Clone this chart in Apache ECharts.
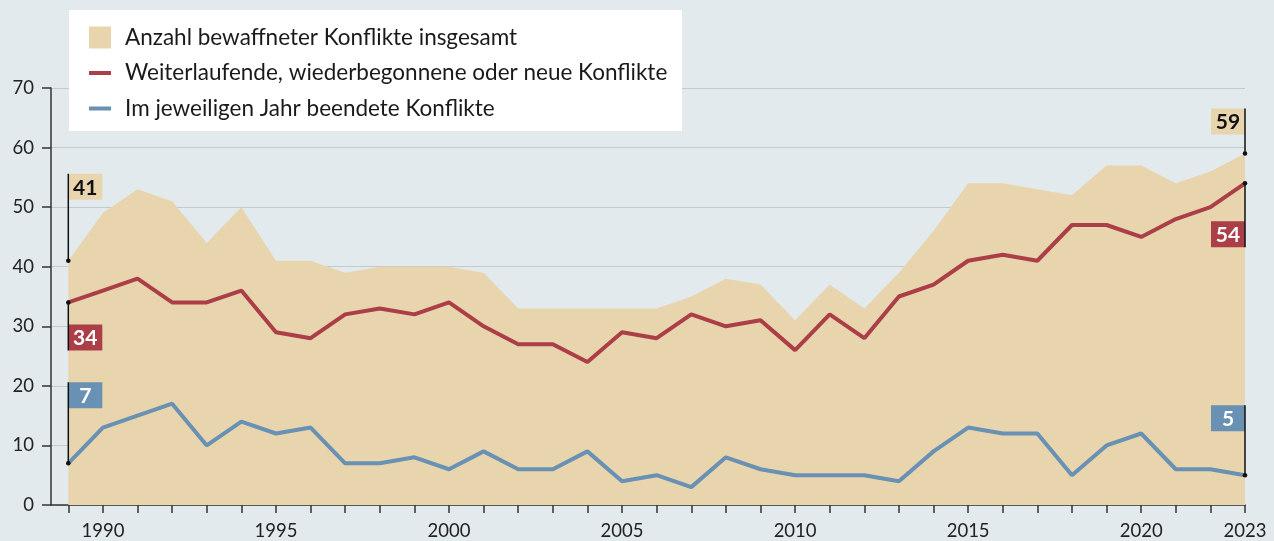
<!DOCTYPE html>
<html>
<head>
<meta charset="utf-8">
<script src="https://cdn.jsdelivr.net/npm/echarts@6/dist/echarts.min.js"></script>
<style>
  html, body { margin: 0; padding: 0; background: #e2eaee; }
  #main { width: 1274px; height: 541px; }
</style>
</head>
<body>
<div id="main"></div>
<script>
// Daten
var years = [];
for (var y = 1989; y <= 2023; y++) years.push(y);

var totalConflicts = [41, 49, 53, 51, 44, 50, 41, 41, 39, 40, 40, 40, 39, 33, 33, 33, 33, 33, 35, 38,
  37, 31, 37, 33, 39, 46, 54, 54, 53, 52, 57, 57, 54, 56, 59];
var ongoingConflicts = [34, 36, 38, 34, 34, 36, 29, 28, 32, 33, 32, 34, 30, 27, 27, 24, 29, 28, 32, 30,
  31, 26, 32, 28, 35, 37, 41, 42, 41, 47, 47, 45, 48, 50, 54];
var endedConflicts = [7, 13, 15, 17, 10, 14, 12, 13, 7, 7, 8, 6, 9, 6, 6, 9, 4, 5, 3, 8,
  6, 5, 5, 5, 4, 9, 13, 12, 12, 5, 10, 12, 6, 6, 5];

var xLabelYears = [1990, 1995, 2000, 2005, 2010, 2015, 2020, 2023];

// Beschriftungen am Anfang und Ende
var annoYears = [1989, 1989, 1989, 2023, 2023, 2023];
var annoValues = [41, 34, 7, 59, 54, 5];

var FONT = "Lato";
var C_AREA = "#e8d5ae";
var C_RED = "#ab3e47";
var C_BLUE = "#6991b3";

// Lage der Kästchen: dy = Oberkante relativ zum Punkt, side = Seite der Linie
var annoLayout = [
  { dy: -87, side: "right", fill: C_AREA, text: "#111" },
  { dy: 22, side: "right", fill: C_RED, text: "#fff" },
  { dy: -81, side: "right", fill: C_BLUE, text: "#fff" },
  { dy: -45, side: "left", fill: C_AREA, text: "#111" },
  { dy: 38, side: "left", fill: C_RED, text: "#fff" },
  { dy: -70, side: "left", fill: C_BLUE, text: "#fff" }
];

var names = [
  "Anzahl bewaffneter Konflikte insgesamt",
  "Weiterlaufende, wiederbegonnene oder neue Konflikte",
  "Im jeweiligen Jahr beendete Konflikte"
];

function pairs(vals) {
  return years.map(function (yr, i) { return [yr, vals[i]]; });
}

var myChart = echarts.init(document.getElementById("main"), null, { renderer: "canvas" });

var option = {
  backgroundColor: "#e2eaee",
  animation: false,
  textStyle: { fontFamily: FONT },
  grid: { left: 51, right: 29, top: 88, bottom: 36, containLabel: false, outerBoundsMode: "none" },
  graphic: [
    {
      type: "rect",
      z: 3,
      shape: { x: 69, y: 10, width: 613, height: 121 },
      style: { fill: "#ffffff" }
    }
  ],
  legend: {
    z: 5,
    orient: "vertical",
    left: 82,
    top: 21,
    itemWidth: 22,
    itemHeight: 22,
    itemGap: 12.5,
    textStyle: { fontFamily: FONT, fontSize: 22.5, color: "#1a1a1a", padding: [0, 0, 0, 9] },
    data: [
      { name: names[0], icon: "rect", itemStyle: { color: C_AREA } },
      { name: names[1], itemStyle: { opacity: 0 }, lineStyle: { width: 4, color: C_RED } },
      { name: names[2], itemStyle: { opacity: 0 }, lineStyle: { width: 4, color: C_BLUE } }
    ]
  },
  xAxis: {
    type: "value",
    min: 1988.5,
    max: 2023,
    axisLine: { show: true, onZero: false, lineStyle: { color: "#333", width: 1.5 } },
    axisTick: {
      show: true,
      length: 8,
      customValues: years,
      lineStyle: { color: "#333", width: 1.5 }
    },
    axisLabel: {
      customValues: xLabelYears,
      fontFamily: FONT,
      fontSize: 18.5,
      color: "#222",
      margin: 17,
      formatter: function (v) { return String(v); }
    },
    splitLine: { show: false }
  },
  yAxis: {
    type: "value",
    min: 0,
    max: 70,
    interval: 10,
    axisLine: { show: true, lineStyle: { color: "#333", width: 1.5 } },
    axisTick: { show: true, length: 9, lineStyle: { color: "#333", width: 1.5 } },
    axisLabel: { fontFamily: FONT, fontSize: 18.5, color: "#222", margin: 17 },
    splitLine: { show: true, lineStyle: { color: "#c3cace", width: 1.2 } }
  },
  series: [
    {
      name: names[0],
      type: "line",
      symbol: "none",
      z: 1,
      lineStyle: { width: 0, opacity: 0 },
      itemStyle: { color: C_AREA },
      areaStyle: { color: C_AREA, opacity: 1 },
      data: pairs(totalConflicts)
    },
    {
      name: names[1],
      type: "line",
      symbol: "none",
      z: 3,
      lineStyle: { width: 4, color: C_RED },
      itemStyle: { color: C_RED },
      data: pairs(ongoingConflicts)
    },
    {
      name: names[2],
      type: "line",
      symbol: "none",
      z: 3,
      lineStyle: { width: 4, color: C_BLUE },
      itemStyle: { color: C_BLUE },
      data: pairs(endedConflicts)
    },
    {
      type: "custom",
      z: 4,
      silent: true,
      clip: false,
      data: annoYears.map(function (yr, i) { return [yr, annoValues[i]]; }),
      renderItem: function (params, api) {
        var i = params.dataIndex;
        var L = annoLayout[i];
        var p = api.coord([api.value(0), api.value(1)]);
        var bw = 34, bh = 26;
        var top = p[1] + L.dy;
        var bx = L.side === "right" ? p[0] : p[0] - bw;
        var lineEnd = L.dy < 0 ? top : top + bh;
        return {
          type: "group",
          children: [
            {
              type: "rect",
              shape: { x: bx, y: top, width: bw, height: bh },
              style: { fill: L.fill }
            },
            {
              type: "text",
              style: {
                x: bx + bw / 2,
                y: top + bh / 2 + 1,
                text: String(api.value(1)),
                fill: L.text,
                font: "bold 21px " + FONT,
                align: "center",
                verticalAlign: "middle"
              }
            },
            {
              type: "line",
              shape: { x1: p[0], y1: p[1], x2: p[0], y2: lineEnd },
              style: { stroke: "#111", lineWidth: 1.5 }
            },
            {
              type: "circle",
              shape: { cx: p[0], cy: p[1], r: 2.3 },
              style: { fill: "#111" }
            }
          ]
        };
      }
    }
  ]
};

myChart.setOption(option);
</script>
</body>
</html>
